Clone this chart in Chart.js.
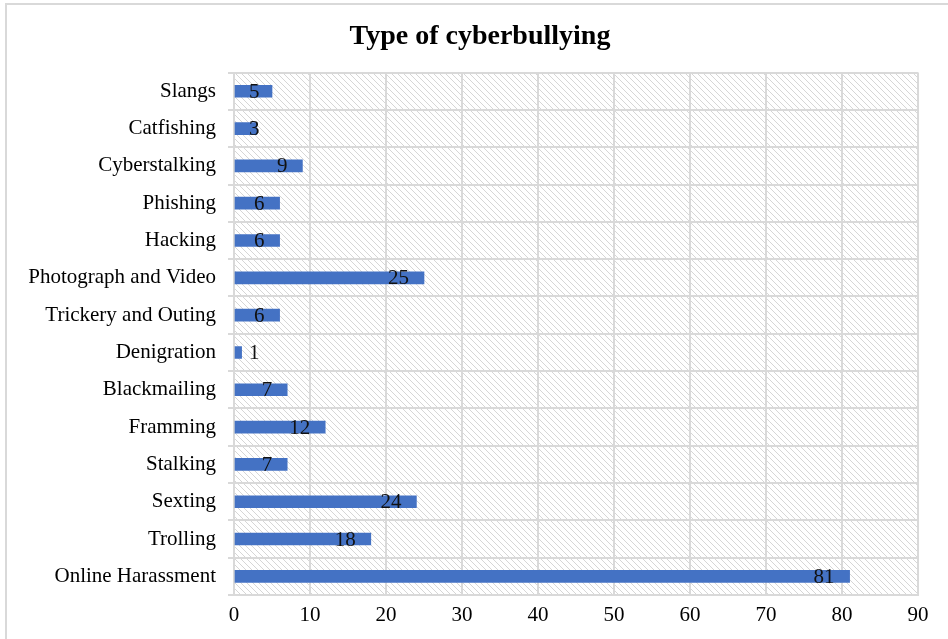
<!DOCTYPE html>
<html>
<head>
<meta charset="utf-8">
<script src="https://cdn.jsdelivr.net/npm/chart.js@4/dist/chart.umd.min.js"></script>
<style>
  html, body { margin: 0; padding: 0; background: #fff; }
  #wrap { width: 948px; height: 639px; }
</style>
</head>
<body>
<div id="wrap"><canvas id="myChart" width="948" height="639"></canvas></div>
<script>
// Categories top to bottom, as in the picture
const categories = [
  "Slangs", "Catfishing", "Cyberstalking", "Phishing", "Hacking",
  "Photograph and Video", "Trickery and Outing", "Denigration", "Blackmailing",
  "Framming", "Stalking", "Sexting", "Trolling", "Online Harassment"
];
const counts = [5, 3, 9, 6, 6, 25, 6, 1, 7, 12, 7, 24, 18, 81];
const xTicks = [0, 10, 20, 30, 40, 50, 60, 70, 80, 90];

const serif = "'Liberation Serif', 'Times New Roman', serif";
const gridGrey = "#d9d9d9";

// hatched plot background + light frame around the whole chart
const background = {
  id: "background",
  beforeDraw(chart) {
    const ctx = chart.ctx;
    const a = chart.chartArea;
    ctx.save();
    ctx.fillStyle = "#fff";
    ctx.fillRect(0, 0, chart.width, chart.height);
    ctx.strokeStyle = gridGrey;
    ctx.lineWidth = 2;
    ctx.strokeRect(6, 4, chart.width + 10, chart.height + 10);

    const p = document.createElement("canvas");
    p.width = 6; p.height = 6;
    const pc = p.getContext("2d");
    pc.strokeStyle = "#d6d6d6";
    pc.lineWidth = 1;
    pc.beginPath();
    pc.moveTo(-1, -1); pc.lineTo(7, 7);
    pc.moveTo(-4, 2); pc.lineTo(2, 8);
    pc.moveTo(2, -4); pc.lineTo(8, 2);
    pc.stroke();
    ctx.fillStyle = ctx.createPattern(p, "repeat");
    ctx.fillRect(a.left, a.top, a.right - a.left, a.bottom - a.top);
    ctx.restore();
  }
};

// value labels near the end of each bar
const valueLabels = {
  id: "valueLabels",
  afterDatasetsDraw(chart) {
    const ctx = chart.ctx;
    const xs = chart.scales.x;
    const x0 = xs.getPixelForValue(0);
    ctx.save();
    ctx.font = "21px " + serif;
    ctx.fillStyle = "#111";
    ctx.textBaseline = "middle";
    chart.getDatasetMeta(0).data.forEach((bar, i) => {
      const txt = String(counts[i]);
      const w = ctx.measureText(txt).width;
      const end = xs.getPixelForValue(counts[i]);
      let right = end - 15;
      if (right - w < x0 + 15) right = x0 + 15 + w;
      ctx.textAlign = "right";
      ctx.fillText(txt, right, bar.y + 1);
    });
    ctx.restore();
  }
};

new Chart(document.getElementById("myChart"), {
  type: "bar",
  data: {
    labels: categories,
    datasets: [{
      data: counts,
      backgroundColor: "#4472C4",
      barThickness: 12
    }]
  },
  options: {
    indexAxis: "y",
    responsive: false,
    animation: false,
    layout: { padding: { left: 12, right: 0, top: 0, bottom: 0 } },
    plugins: {
      legend: { display: false },
      tooltip: { enabled: false },
      title: {
        display: true,
        text: "Type of cyberbullying",
        color: "#000",
        font: { family: serif, size: 28, weight: "bold", lineHeight: 1.2 },
        padding: { top: 20, bottom: 19 }
      }
    },
    scales: {
      x: {
        min: 0,
        max: 90,
        afterBuildTicks(s) { s.ticks = xTicks.map(v => ({ value: v })); },
        afterFit(s) { s.height = 44; },
        grid: { color: gridGrey, lineWidth: 2, drawTicks: false },
        border: { color: gridGrey, width: 2 },
        ticks: { color: "#000", padding: 8, font: { family: serif, size: 21 } }
      },
      y: {
        afterFit(s) { s.width = 222; },
        grid: { color: gridGrey, lineWidth: 2, offset: true, tickLength: 6 },
        border: { color: gridGrey, width: 2 },
        ticks: { color: "#000", padding: 12, font: { family: serif, size: 21 } }
      },
      // empty right-hand axis: only keeps the right margin
      yRight: {
        type: "category",
        position: "right",
        labels: categories,
        afterFit(s) { s.width = 30; },
        grid: { display: false },
        border: { display: false },
        ticks: { display: false }
      }
    }
  },
  plugins: [background, valueLabels]
});
</script>
</body>
</html>
